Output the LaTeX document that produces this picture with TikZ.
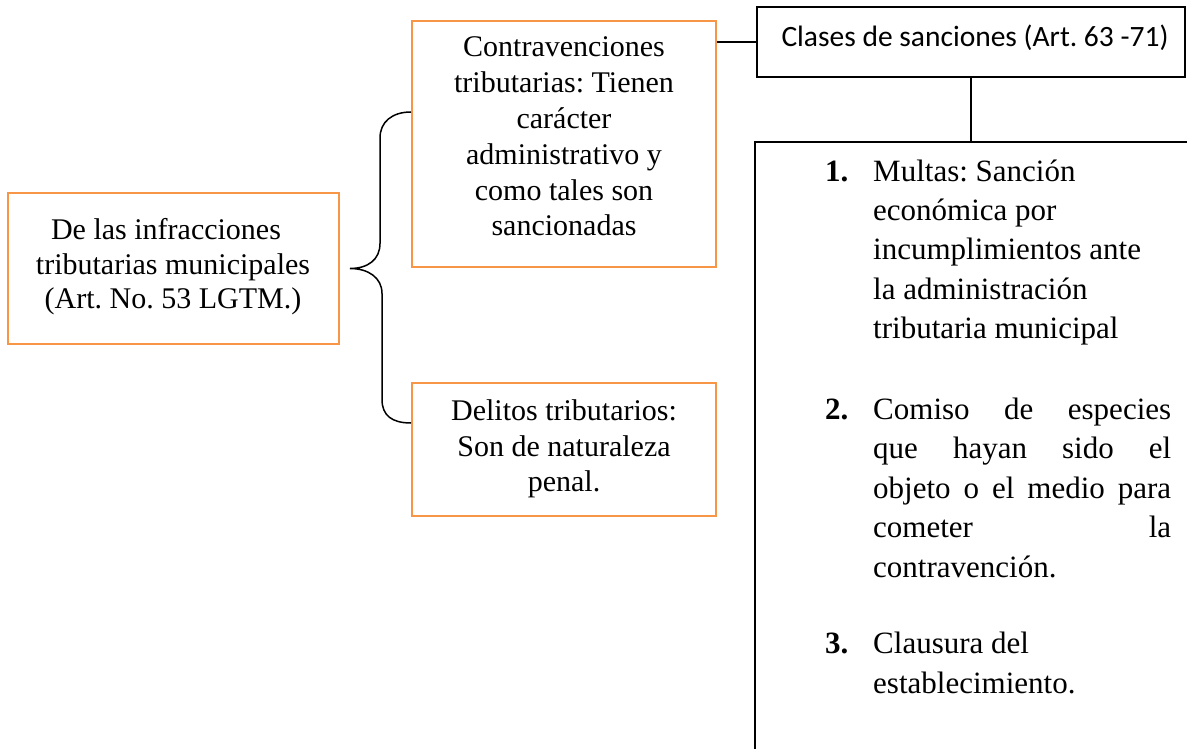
\documentclass[tikz,border=0pt]{standalone}
\usepackage{fontspec}
\setmainfont{Liberation Serif}
\newfontfamily\calibrifont{Carlito}
\definecolor{boxorange}{HTML}{F79646}
\frenchspacing
\begin{document}
\frenchspacing
\begin{tikzpicture}[x=1pt,y=-1pt,
  obox/.style={draw=boxorange, line width=2pt, rectangle, inner sep=0pt},
  kbox/.style={draw=black, line width=1.5pt, rectangle, inner sep=0pt},
  conn/.style={draw=black, line width=1.5pt},
  txt/.style={inner sep=0pt, font=\fontsize{30}{35}\selectfont\frenchspacing, anchor=base},
  stxt/.style={inner sep=0pt, font=\calibrifont\fontsize{29.5}{35}\selectfont\frenchspacing, anchor=base},
  ltxt/.style={inner sep=0pt, font=\fontsize{31}{39}\selectfont\frenchspacing, anchor=base west},
  ntxt/.style={inner sep=0pt, font=\fontsize{31}{39}\selectfont\bfseries, anchor=base west},
]
\useasboundingbox (0,0) rectangle (1187,749);
\clip (0,0) rectangle (1187,749);
\fill[white] (0,0) rectangle (1187,749);

% boxes
\node[obox, minimum width=331pt, minimum height=151pt] (b1) at (173.5,268.5) {};
\node[obox, minimum width=304pt, minimum height=246pt] (b2) at (564,144) {};
\node[obox, minimum width=304pt, minimum height=133pt] (b3) at (564,449.5) {};
\node[kbox, minimum width=428pt, minimum height=70pt] (b4) at (971,42) {};
\node[kbox, minimum width=445pt, minimum height=628pt] (b5) at (977.5,456) {};

% texts box 1
\node[txt] (t1a) at (166,240) {De las infracciones};
\node[txt] (t1b) at (173,274) {tributarias municipales};
\node[txt] (t1c) at (173,308) {(Art. No. 53 LGTM.)};

% texts box 2
\node[txt] (t2a) at (564,57) {Contravenciones};
\node[txt] (t2b) at (564,92.8) {tributarias: Tienen};
\node[txt] (t2c) at (564,128.6) {carácter};
\node[txt] (t2d) at (564,164.4) {administrativo y};
\node[txt] (t2e) at (564,200.2) {como tales son};
\node[txt] (t2f) at (564,236) {sancionadas};

% texts box 3
\node[txt] (t3a) at (564,420) {Delitos tributarios:};
\node[txt] (t3b) at (564,456) {Son de naturaleza};
\node[txt] (t3c) at (564,491) {penal.};

% text box 4
\node[stxt] (t4) at (975,47) {Clases de sanciones (Art. 63 -71)};

% list box 5
\node[ntxt] (n1) at (825,181.5) {1.};
\node[ltxt] (l1a) at (873,181.5) {Multas: Sanción};
\node[ltxt] (l1b) at (873,220.7) {económica por};
\node[ltxt] (l1c) at (873,259.9) {incumplimientos ante};
\node[ltxt] (l1d) at (873,299.1) {la administración};
\node[ltxt] (l1e) at (873,338.3) {tributaria municipal};

\node[ntxt] (n2) at (825,419) {2.};
\node[ltxt] (l2a) at (873,419) {\hbox to 298pt{Comiso\hfill de\hfill especies}};
\node[ltxt] (l2b) at (873,458) {\hbox to 298pt{que\hfill hayan\hfill sido\hfill el}};
\node[ltxt] (l2c) at (873,498) {\hbox to 298pt{objeto\hfill o\hfill el\hfill medio\hfill para}};
\node[ltxt] (l2d) at (873,537) {\hbox to 298pt{cometer\hfill la}};
\node[ltxt] (l2e) at (873,577) {contravención.};

\node[ntxt] (n3) at (825,653) {3.};
\node[ltxt] (l3a) at (873,653) {Clausura del};
\node[ltxt] (l3b) at (873,693) {establecimiento.};

% connectors
\draw[conn] (b2.east |- b4.west) -- (b4.west);
\draw[conn] (b4.south) -- (b4.south |- b5.north);

\coordinate (tip) at ([xshift=10pt]b1.east);
\coordinate (btop) at ([yshift=32pt]b2.west);
\coordinate (bbot) at ([yshift=26.5pt]b3.west);
\draw[conn] (btop) .. controls +(-19,0) and +(0,-16) .. ++(-31,26)
  -- ++(0,105.5) .. controls +(0,16) and +(18,0) .. (tip)
  .. controls +(18,0) and +(0,-16) .. ++(32,25)
  -- ++(0,106) .. controls +(0,16) and +(-19,0) .. (bbot);
\end{tikzpicture}
\end{document}
